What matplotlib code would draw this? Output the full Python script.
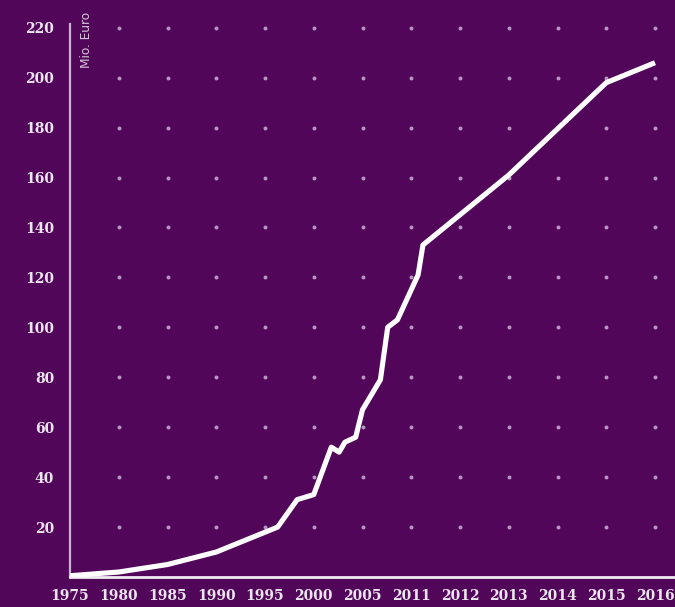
import numpy as np
import matplotlib
matplotlib.use("Agg")
from matplotlib import pyplot as plt

# tick labels on the x axis (evenly spaced categories)
tick_years = [1975, 1980, 1985, 1990, 1995, 2000, 2005, 2011, 2012, 2013, 2014, 2015, 2016]

# series (years, Mio. Euro)
years = [1975, 1980, 1985, 1990, 1996.3, 1998.3, 2000, 2001.8, 2002.6, 2003.2,
         2004.3, 2005, 2007.2, 2008.1, 2009.3, 2011.14, 2011.24, 2013, 2015, 2016]
values = [0.5, 2, 5, 10, 20, 31, 33, 52, 50, 54,
          56, 67, 79, 100, 103, 121, 133, 161, 198, 206]

y_ticks = [20, 40, 60, 80, 100, 120, 140, 160, 180, 200, 220]

BG = "#51065a"

# piecewise year -> category position
pos = np.interp(years, tick_years, np.arange(len(tick_years)))

fig = plt.figure(figsize=(6.75, 6.07), dpi=100)
fig.set_facecolor(BG)
ax = fig.add_axes([70 / 675, 30 / 607, 605 / 675, 553 / 607])
ax.set_facecolor(BG)

# dotted grid
gx, gy = np.meshgrid(np.arange(1, len(tick_years)), y_ticks)
ax.scatter(gx.ravel(), gy.ravel(), s=8, color="#b996c2", linewidths=0, zorder=1)

ax.plot(pos, values, color="white", lw=3.7, zorder=3, solid_capstyle="butt")

ax.set_xlim(0, 12.41)
ax.set_ylim(0, 221.5)
ax.set_xticks(np.arange(len(tick_years)))
ax.set_xticklabels([str(y) for y in tick_years])
ax.set_yticks(y_ticks)
ax.set_yticklabels([str(v) for v in y_ticks])

for lab in ax.get_xticklabels() + ax.get_yticklabels():
    lab.set_fontfamily("DejaVu Serif")
    lab.set_fontweight("bold")
    lab.set_fontsize(10)
    lab.set_color("#ece4ee")

ax.tick_params(axis="both", length=0)
ax.tick_params(axis="x", pad=8.5)
ax.tick_params(axis="y", pad=11.5)

for s in ("top", "right"):
    ax.spines[s].set_visible(False)
ax.spines["left"].set_color("#c9b3cf")
ax.spines["left"].set_linewidth(1.6)
ax.spines["bottom"].set_color("#f2ecf3")
ax.spines["bottom"].set_linewidth(2)

ax.text(16 / 605, 1.022, "Mio. Euro", transform=ax.transAxes, rotation=90,
        ha="center", va="top", fontsize=8.7, color="#d8c6dc",
        family="DejaVu Sans", clip_on=False)

fig.savefig("out.png", dpi=100, facecolor=BG)
